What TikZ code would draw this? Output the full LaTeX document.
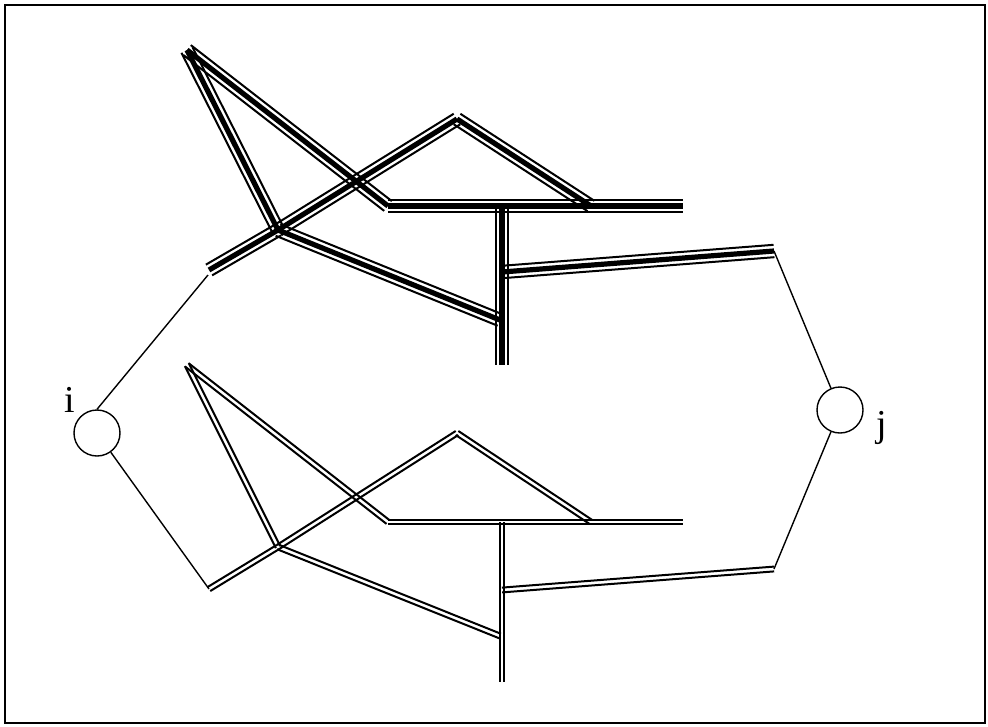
\documentclass[tikz,border=0pt]{standalone}
\usepackage{fontspec}
\setmainfont{Liberation Serif}
\usetikzlibrary{calc}
\newcommand{\dline}[3]{%
  \draw[edgeline] ($(#2)!#1!90:(#3)$) -- ($(#3)!#1!-90:(#2)$);
  \draw[edgeline] ($(#2)!#1!-90:(#3)$) -- ($(#3)!#1!90:(#2)$);}
\newcommand{\dbl}[2]{\dline{2.4pt}{#1}{#2}}
\newcommand{\trp}[2]{\dline{6.2pt}{#1}{#2}\draw[centreline] (#1) -- (#2);}
\begin{document}
\begin{tikzpicture}[x=1pt,y=-1pt,
  edgeline/.style={line width=2pt,line cap=butt},
  centreline/.style={line width=5.2pt,line cap=butt},
  thinline/.style={line width=1.4pt},
  vertex/.style={circle,draw,line width=1.4pt,minimum size=46pt,inner sep=0pt},
  lab/.style={font=\fontsize{38}{38}\selectfont,anchor=base,inner sep=0pt}]
\useasboundingbox (0,0) rectangle (988,726);
\draw[line width=2pt] (5,5) rectangle (985,723);
% top structure
\coordinate (A) at (187,50);
\coordinate (B) at (278,230);
\coordinate (X) at (388,206);
\coordinate (H) at (683,206);
\coordinate (L) at (209,270);
\coordinate (C) at (457,119);
\coordinate (R) at (591,206);
\coordinate (V1) at (502,206);
\coordinate (V2) at (502,365);
\coordinate (E) at (500,320);
\coordinate (F) at (502,272);
\coordinate (G) at (774,251);
\coordinate (Li) at (208,275);
% bottom structure
\coordinate (a) at (187,365);
\coordinate (b) at (278,547);
\coordinate (x) at (388,522);
\coordinate (h) at (683,522);
\coordinate (l) at (209,589);
\coordinate (c) at (457,433);
\coordinate (r) at (591,522);
\coordinate (v1) at (502,522);
\coordinate (v2) at (502,682);
\coordinate (e) at (500,636);
\coordinate (f) at (502,590);
\coordinate (g) at (774,569);
% nodes
\node[vertex] (i) at (97,433) {};
\node[vertex] (j) at (840,410) {};
\node[lab] (li) at (70,412) {i};
\node[lab] (lj) at (882,436) {j};
% top edges (triple)
\trp{A}{B}
\trp{A}{X}
\trp{X}{H}
\trp{L}{B}
\trp{B}{C}
\trp{C}{R}
\trp{B}{E}
\trp{V1}{V2}
\trp{F}{G}
% bottom edges (double)
\dbl{a}{b}
\dbl{a}{x}
\dbl{x}{h}
\dbl{l}{b}
\dbl{b}{c}
\dbl{c}{r}
\dbl{b}{e}
\dbl{v1}{v2}
\dbl{f}{g}
% thin connectors
\draw[thinline] (i.north) -- (Li);
\draw[thinline] (i) -- (l);
\draw[thinline] (G) -- (j);
\draw[thinline] (g) -- (j);
\end{tikzpicture}
\end{document}
